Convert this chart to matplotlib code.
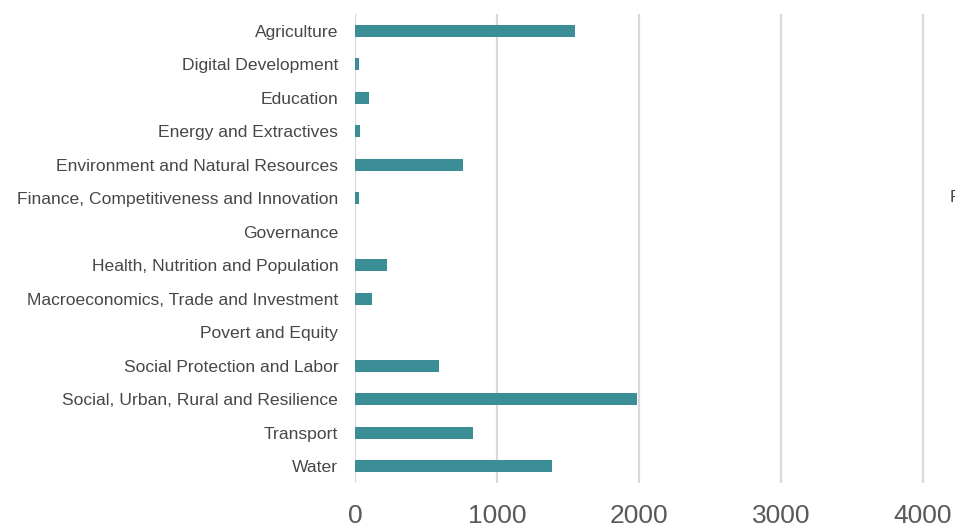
import matplotlib
matplotlib.use("Agg")
import matplotlib.pyplot as plt

categories = [
    "Agriculture",
    "Digital Development",
    "Education",
    "Energy and Extractives",
    "Environment and Natural Resources",
    "Finance, Competitiveness and Innovation",
    "Governance",
    "Health, Nutrition and Population",
    "Macroeconomics, Trade and Investment",
    "Povert and Equity",
    "Social Protection and Labor",
    "Social, Urban, Rural and Resilience",
    "Transport",
    "Water",
]
values = [1546, 26, 99, 35, 759, 26, 0, 226, 118, 0, 595, 1984, 834, 1384]
xticks = [0, 1000, 2000, 3000, 4000]

fam = ["Liberation Sans Narrow", "Liberation Sans", "DejaVu Sans"]
plt.rcParams["font.family"] = fam

W, H = 955, 527
fig = plt.figure(figsize=(W / 100, H / 100), dpi=100)
left_px, right_px = 355, 355 + 0.142 * 4500
top_px, bot_px = 14, 483
ax = fig.add_axes([left_px / W, 1 - bot_px / H, (right_px - left_px) / W, (bot_px - top_px) / H])

ypos = list(range(len(categories)))
ax.barh(ypos, values, height=0.37, color="#3C8E96", zorder=3)
ax.set_ylim(len(categories) - 0.5, -0.5)
ax.set_xlim(0, 4500)
ax.set_yticks(ypos)
ax.set_yticklabels(categories, fontsize=12.6, color="#474747")
ax.set_xticks(xticks)
ax.set_xticklabels([str(t) for t in xticks], fontsize=19, color="#595959")
ax.tick_params(axis="both", length=0)
ax.tick_params(axis="y", pad=12)
ax.tick_params(axis="x", pad=15)
ax.grid(axis="x", color="#D9D9D9", linewidth=1.6, zorder=0)
for s in ax.spines.values():
    s.set_visible(False)

fig.text(950 / W, 1 - 197 / H, "F", fontsize=12.6, color="#474747", va="center", ha="left")

fig.savefig("out.png", dpi=100)
